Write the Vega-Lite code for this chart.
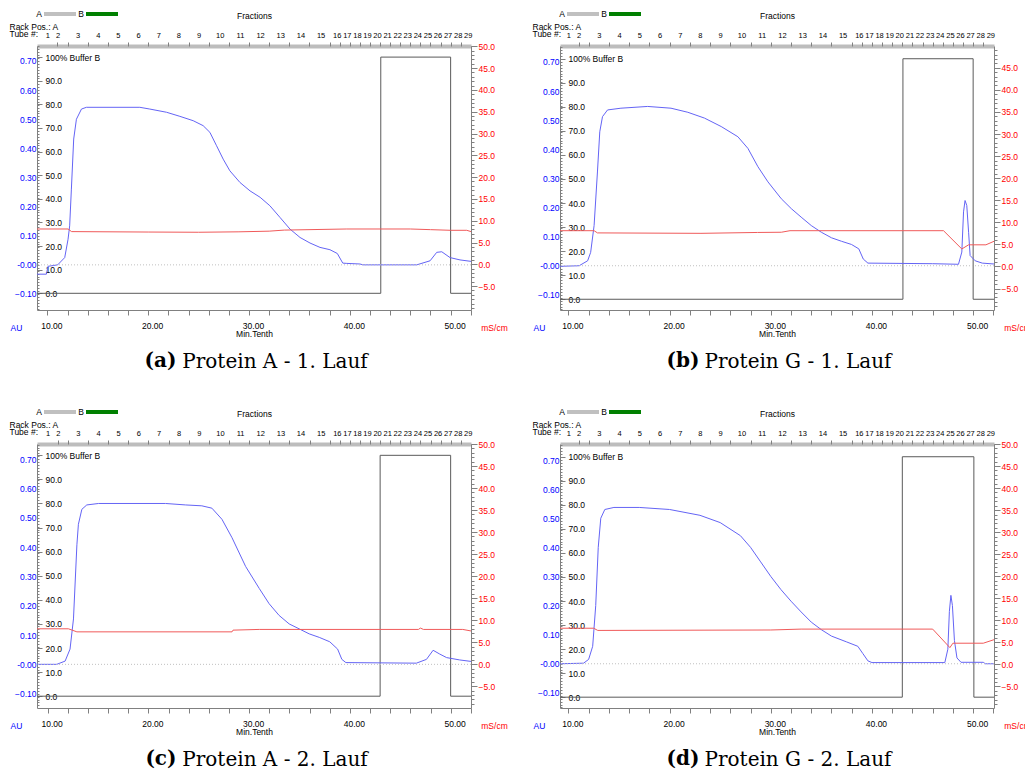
{
"$schema": "https://vega.github.io/schema/vega-lite/v6.json",
"padding": {"left": 9, "top": -4, "right": 0, "bottom": 0},
"config": {
  "view": {"stroke": null},
  "axis": {"labelFont": "Liberation Sans", "titleFont": "Liberation Sans", "labelFontSize": 8.5, "titleFontSize": 8.5, "titleFontWeight": "normal", "grid": false, "domainColor": "#808080", "tickColor": "#808080", "labelColor": "#000000", "titleColor": "#000000", "labelFlush": false, "labelOverlap": false},
  "legend": {"labelFont": "Liberation Sans", "labelFontSize": 8.5},
  "title": {"font": "DejaVu Serif", "fontSize": 20, "fontWeight": "normal", "color": "#000000", "orient": "bottom", "anchor": "middle", "offset": -18, "dx": 21}
},
"datasets": {
  "buffer": [
    {"p":"a","t":8.97,"b":0},{"p":"a","t":43.07,"b":0},{"p":"a","t":43.07,"b":100},{"p":"a","t":50.0,"b":100},{"p":"a","t":50.0,"b":0},{"p":"a","t":52.02,"b":0},
    {"p":"b","t":9.17,"b":0},{"p":"b","t":43.06,"b":0},{"p":"b","t":43.06,"b":100},{"p":"b","t":50.0,"b":100},{"p":"b","t":50.0,"b":0},{"p":"b","t":52.06,"b":0},
    {"p":"c","t":8.94,"b":0},{"p":"c","t":43.0,"b":0},{"p":"c","t":43.0,"b":100},{"p":"c","t":50.0,"b":100},{"p":"c","t":50.0,"b":0},{"p":"c","t":52.02,"b":0},
    {"p":"d","t":9.17,"b":0},{"p":"d","t":43.0,"b":0},{"p":"d","t":43.0,"b":100},{"p":"d","t":50.07,"b":100},{"p":"d","t":50.07,"b":0},{"p":"d","t":52.06,"b":0}
  ],
  "uv": [
    {"p":"a","t":8.97,"au":-0.032},{"p":"a","t":9.9,"au":-0.032},{"p":"a","t":10.06,"au":-0.005},{"p":"a","t":11.02,"au":0.0},{"p":"a","t":11.72,"au":0.025},{"p":"a","t":12.05,"au":0.088},{"p":"a","t":12.21,"au":0.134},{"p":"a","t":12.38,"au":0.26},{"p":"a","t":12.61,"au":0.432},{"p":"a","t":12.88,"au":0.5},{"p":"a","t":13.38,"au":0.535},{"p":"a","t":13.87,"au":0.541},{"p":"a","t":19.17,"au":0.541},{"p":"a","t":20.16,"au":0.535},{"p":"a","t":21.82,"au":0.524},{"p":"a","t":23.14,"au":0.51},{"p":"a","t":24.46,"au":0.495},{"p":"a","t":25.45,"au":0.478},{"p":"a","t":26.12,"au":0.455},{"p":"a","t":26.78,"au":0.409},{"p":"a","t":27.44,"au":0.363},{"p":"a","t":28.1,"au":0.323},{"p":"a","t":29.1,"au":0.283},{"p":"a","t":30.1,"au":0.254},{"p":"a","t":31.1,"au":0.232},{"p":"a","t":32.07,"au":0.203},{"p":"a","t":33.07,"au":0.163},{"p":"a","t":34.06,"au":0.123},{"p":"a","t":35.06,"au":0.094},{"p":"a","t":36.05,"au":0.075},{"p":"a","t":37.04,"au":0.06},{"p":"a","t":38.03,"au":0.052},{"p":"a","t":38.76,"au":0.039},{"p":"a","t":39.3,"au":0.006},{"p":"a","t":39.7,"au":0.005},{"p":"a","t":41.0,"au":0.003},{"p":"a","t":41.31,"au":0.0},{"p":"a","t":46.64,"au":0.0},{"p":"a","t":47.96,"au":0.014},{"p":"a","t":48.62,"au":0.043},{"p":"a","t":49.12,"au":0.045},{"p":"a","t":49.94,"au":0.025},{"p":"a","t":50.93,"au":0.017},{"p":"a","t":52.02,"au":0.012},
    {"p":"b","t":9.17,"au":-0.002},{"p":"b","t":11.06,"au":0.0},{"p":"b","t":11.9,"au":0.017},{"p":"b","t":12.2,"au":0.046},{"p":"b","t":12.54,"au":0.138},{"p":"b","t":12.87,"au":0.322},{"p":"b","t":13.1,"au":0.46},{"p":"b","t":13.37,"au":0.512},{"p":"b","t":13.87,"au":0.535},{"p":"b","t":15.19,"au":0.541},{"p":"b","t":17.83,"au":0.547},{"p":"b","t":20.14,"au":0.541},{"p":"b","t":21.8,"au":0.527},{"p":"b","t":23.45,"au":0.507},{"p":"b","t":25.1,"au":0.478},{"p":"b","t":26.75,"au":0.443},{"p":"b","t":27.74,"au":0.403},{"p":"b","t":28.73,"au":0.34},{"p":"b","t":29.72,"au":0.288},{"p":"b","t":31.04,"au":0.23},{"p":"b","t":32.03,"au":0.196},{"p":"b","t":33.0,"au":0.167},{"p":"b","t":34.0,"au":0.138},{"p":"b","t":35.0,"au":0.115},{"p":"b","t":36.0,"au":0.096},{"p":"b","t":36.99,"au":0.084},{"p":"b","t":37.98,"au":0.073},{"p":"b","t":38.7,"au":0.058},{"p":"b","t":39.14,"au":0.023},{"p":"b","t":39.6,"au":0.009},{"p":"b","t":46.0,"au":0.007},{"p":"b","t":48.55,"au":0.005},{"p":"b","t":48.88,"au":0.047},{"p":"b","t":49.05,"au":0.185},{"p":"b","t":49.2,"au":0.224},{"p":"b","t":49.37,"au":0.207},{"p":"b","t":49.55,"au":0.115},{"p":"b","t":49.7,"au":0.035},{"p":"b","t":50.2,"au":0.017},{"p":"b","t":50.9,"au":0.009},{"p":"b","t":52.06,"au":0.006},
    {"p":"c","t":8.94,"au":0.0},{"p":"c","t":10.9,"au":0.0},{"p":"c","t":11.73,"au":0.011},{"p":"c","t":12.22,"au":0.052},{"p":"c","t":12.56,"au":0.155},{"p":"c","t":12.9,"au":0.408},{"p":"c","t":13.05,"au":0.478},{"p":"c","t":13.39,"au":0.529},{"p":"c","t":13.88,"au":0.544},{"p":"c","t":15.05,"au":0.549},{"p":"c","t":21.7,"au":0.549},{"p":"c","t":23.7,"au":0.544},{"p":"c","t":25.3,"au":0.541},{"p":"c","t":26.3,"au":0.533},{"p":"c","t":27.3,"au":0.495},{"p":"c","t":28.3,"au":0.432},{"p":"c","t":29.65,"au":0.334},{"p":"c","t":31.0,"au":0.259},{"p":"c","t":31.98,"au":0.207},{"p":"c","t":32.97,"au":0.167},{"p":"c","t":33.97,"au":0.138},{"p":"c","t":34.97,"au":0.121},{"p":"c","t":35.96,"au":0.104},{"p":"c","t":36.96,"au":0.092},{"p":"c","t":38.0,"au":0.077},{"p":"c","t":38.78,"au":0.052},{"p":"c","t":39.2,"au":0.017},{"p":"c","t":39.6,"au":0.006},{"p":"c","t":46.6,"au":0.004},{"p":"c","t":47.6,"au":0.017},{"p":"c","t":48.26,"au":0.048},{"p":"c","t":48.92,"au":0.035},{"p":"c","t":49.6,"au":0.023},{"p":"c","t":50.9,"au":0.015},{"p":"c","t":52.02,"au":0.01},
    {"p":"d","t":9.17,"au":0.0},{"p":"d","t":11.5,"au":0.002},{"p":"d","t":12.0,"au":0.015},{"p":"d","t":12.4,"au":0.06},{"p":"d","t":12.7,"au":0.2},{"p":"d","t":12.95,"au":0.4},{"p":"d","t":13.2,"au":0.5},{"p":"d","t":13.6,"au":0.53},{"p":"d","t":14.5,"au":0.537},{"p":"d","t":17.0,"au":0.537},{"p":"d","t":20.0,"au":0.53},{"p":"d","t":23.0,"au":0.51},{"p":"d","t":25.0,"au":0.485},{"p":"d","t":27.0,"au":0.44},{"p":"d","t":28.0,"au":0.4},{"p":"d","t":29.0,"au":0.35},{"p":"d","t":30.0,"au":0.3},{"p":"d","t":31.0,"au":0.255},{"p":"d","t":32.0,"au":0.215},{"p":"d","t":33.0,"au":0.178},{"p":"d","t":34.0,"au":0.143},{"p":"d","t":35.0,"au":0.117},{"p":"d","t":36.0,"au":0.095},{"p":"d","t":37.5,"au":0.075},{"p":"d","t":38.6,"au":0.06},{"p":"d","t":39.1,"au":0.035},{"p":"d","t":39.6,"au":0.01},{"p":"d","t":40.0,"au":0.004},{"p":"d","t":47.2,"au":0.004},{"p":"d","t":47.5,"au":0.05},{"p":"d","t":47.65,"au":0.18},{"p":"d","t":47.8,"au":0.235},{"p":"d","t":47.95,"au":0.2},{"p":"d","t":48.15,"au":0.08},{"p":"d","t":48.4,"au":0.02},{"p":"d","t":48.8,"au":0.005},{"p":"d","t":51.0,"au":0.005},{"p":"d","t":51.2,"au":0.0},{"p":"d","t":52.06,"au":0.0}
  ],
  "cond": [
    {"p":"a","t":8.97,"ms":8.1},{"p":"a","t":12.05,"ms":8.1},{"p":"a","t":12.4,"ms":7.5},{"p":"a","t":20.0,"ms":7.4},{"p":"a","t":25.0,"ms":7.35},{"p":"a","t":29.0,"ms":7.45},{"p":"a","t":32.0,"ms":7.6},{"p":"a","t":33.5,"ms":7.85},{"p":"a","t":39.7,"ms":8.1},{"p":"a","t":46.0,"ms":8.1},{"p":"a","t":48.0,"ms":7.95},{"p":"a","t":50.0,"ms":7.8},{"p":"a","t":51.6,"ms":7.8},{"p":"a","t":52.02,"ms":7.5},
    {"p":"b","t":9.17,"ms":8.1},{"p":"b","t":12.54,"ms":8.1},{"p":"b","t":12.87,"ms":7.6},{"p":"b","t":23.1,"ms":7.5},{"p":"b","t":28.7,"ms":7.7},{"p":"b","t":31.04,"ms":7.75},{"p":"b","t":31.9,"ms":8.1},{"p":"b","t":47.07,"ms":8.1},{"p":"b","t":48.88,"ms":3.96},{"p":"b","t":49.55,"ms":4.9},{"p":"b","t":51.26,"ms":4.9},{"p":"b","t":52.06,"ms":5.7},
    {"p":"c","t":8.94,"ms":8.04},{"p":"c","t":12.06,"ms":8.04},{"p":"c","t":12.9,"ms":7.35},{"p":"c","t":28.3,"ms":7.35},{"p":"c","t":28.4,"ms":7.74},{"p":"c","t":31.0,"ms":7.9},{"p":"c","t":46.8,"ms":7.9},{"p":"c","t":47.0,"ms":8.2},{"p":"c","t":47.3,"ms":7.9},{"p":"c","t":51.2,"ms":7.9},{"p":"c","t":52.02,"ms":7.55},
    {"p":"d","t":9.17,"ms":8.2},{"p":"d","t":12.5,"ms":8.2},{"p":"d","t":12.9,"ms":7.7},{"p":"d","t":30.0,"ms":7.8},{"p":"d","t":33.0,"ms":8.0},{"p":"d","t":46.0,"ms":8.0},{"p":"d","t":47.7,"ms":3.8},{"p":"d","t":48.0,"ms":4.8},{"p":"d","t":51.0,"ms":4.8},{"p":"d","t":52.06,"ms":5.6}
  ]
},
"spacing": 22,
"resolve": {"scale": {"x": "independent", "y": "independent", "color": "independent"}, "legend": {"color": "independent"}},
"vconcat": [
{"hconcat": [
{
  "width": 434, "height": 264,
  "title": {"text": "Protein A - 1. Lauf"},
  "layer": [
    {"data": {"name": "buffer"}, "transform": [{"filter": "datum.p == 'a'"}],
     "mark": {"type": "line", "color": "#5a5a5a", "strokeWidth": 1},
     "encoding": {
       "x": {"field": "t", "type": "quantitative", "scale": {"domain": [8.97, 52.02], "nice": false, "zero": false},
             "axis": {"orient": "bottom", "values": [10,12,14,16,18,20,22,24,26,28,30,32,34,36,38,40,42,44,46,48,50,52], "labelExpr": "datum.value % 10 === 0 ? format(datum.value, '.2f') : ''", "title": "Min.Tenth", "tickSize": 5, "labelOffset": 4, "labelPadding": 6, "titlePadding": 0}},
       "y": {"field": "b", "type": "quantitative", "scale": {"domain": [-7.07, 104.7], "nice": false, "zero": false},
             "axis": {"orient": "right", "offset": -434, "values": [0,10,20,30,40,50,60,70,80,90,100], "labelExpr": "datum.value === 100 ? '100% Buffer B' : format(datum.value, '.1f')", "domain": false, "tickSize": 5, "labelPadding": 3, "title": null}}
     }},
    {"data": {"name": "uv"}, "transform": [{"filter": "datum.p == 'a'"}],
     "mark": {"type": "line", "color": "#6464f5", "strokeWidth": 1},
     "encoding": {
       "x": {"field": "t", "type": "quantitative", "scale": {"domain": [8.97, 52.02], "nice": false, "zero": false},
             "axis": {"orient": "top", "values": [10,11,13,15,17,19,21,23,25,27.1,29.1,31.1,33.1,35.1,37.1,38.7,39.7,40.7,41.7,42.7,43.7,44.7,45.7,46.7,47.7,48.7,49.7,50.7,51.7], "labelExpr": "indexof([10,11,13,15,17,19,21,23,25,27.1,29.1,31.1,33.1,35.1,37.1,38.7,39.7,40.7,41.7,42.7,43.7,44.7,45.7,46.7,47.7,48.7,49.7,50.7,51.7], datum.value) + 1", "labelFontSize": 7.5, "ticks": false, "domainWidth": 4, "domainColor": "#bdbdbd", "labelPadding": 7, "title": "Fractions", "titlePadding": 11}},
       "y": {"field": "au", "type": "quantitative", "scale": {"domain": [-0.155, 0.7515], "nice": false, "zero": false},
             "axis": {"orient": "left", "values": [-0.1,0,0.1,0.2,0.3,0.4,0.5,0.6,0.7], "labelExpr": "datum.value === 0 ? '-0.00' : format(datum.value, '.2f')", "labelColor": "#0000ff", "ticks": false, "labelPadding": 1, "title": "AU", "titleColor": "#0000ff", "titleAngle": 0, "titleX": -21, "titleY": 281, "titleAlign": "center", "titleBaseline": "middle"}}
     }},
    {"data": {"name": "cond"}, "transform": [{"filter": "datum.p == 'a'"}],
     "mark": {"type": "line", "color": "#f05a5a", "strokeWidth": 1},
     "encoding": {
       "x": {"field": "t", "type": "quantitative", "scale": {"domain": [8.97, 52.02], "nice": false, "zero": false},
             "axis": {"orient": "top", "values": [11,12,14,16,18,20,22,24,26,28,30,32,34,36,38,39,40,41,42,43,44,45,46,47,48,49,50,51], "labels": false, "domain": false, "tickSize": 4, "title": ["Rack Pos.: A", "Tube #:"], "titleX": -28, "titleY": -20, "titleAlign": "left", "titleBaseline": "middle", "titleLineHeight": 7, "titleAngle": 0}},
       "y": {"field": "ms", "type": "quantitative", "scale": {"domain": [-10.48, 50.07], "nice": false, "zero": false},
             "axis": {"orient": "right", "values": [-5,0,5,10,15,20,25,30,35,40,45,50], "format": ".1f", "labelColor": "#ff0000", "tickSize": 6, "labelPadding": 1, "title": "mS/cm", "titleColor": "#ff0000", "titleAngle": 0, "titleX": 23, "titleY": 281, "titleAlign": "center", "titleBaseline": "middle"}}
     }},
    {"data": {"values": [{"base": 0}]},
     "mark": {"type": "rule", "strokeDash": [1, 2], "strokeWidth": 1},
     "encoding": {
       "y": {"field": "base", "type": "quantitative", "scale": {"domain": [-0.155, 0.7515], "nice": false, "zero": false},
             "axis": {"orient": "right", "offset": -434, "tickCount": 90, "labels": false, "domain": false, "tickSize": 2, "title": null}},
       "color": {"datum": "A", "scale": {"domain": ["A", "B"], "range": ["#c0c0c0", "#008000"]},
                 "legend": {"orient": "none", "legendX": 5, "legendY": -50, "direction": "horizontal", "title": null, "symbolType": "stroke", "symbolSize": 1024, "symbolStrokeWidth": 4, "symbolDash": [1, 0], "labelOffset": -36, "labelAlign": "right", "columnPadding": -11}}
     }},
    {"data": {"name": "cond"}, "transform": [{"filter": "datum.p == 'a'"}],
     "mark": {"type": "line", "strokeOpacity": 0},
     "encoding": {
       "x": {"field": "t", "type": "quantitative", "scale": {"domain": [8.97, 52.02], "nice": false, "zero": false},
             "axis": {"orient": "bottom", "labels": false, "ticks": false, "domain": false, "title": "(a)", "titleFont": "DejaVu Serif", "titleFontSize": 20, "titleFontWeight": "bold", "titleX": 139, "titleY": 56, "titleAlign": "right", "titleBaseline": "alphabetic", "titleAngle": 0}},
       "y": {"field": "ms", "type": "quantitative", "scale": {"domain": [-10.48, 50.07], "nice": false, "zero": false},
             "axis": {"orient": "right", "tickCount": 60, "labels": false, "domain": false, "tickSize": 3, "title": null}}
     }}
  ],
  "resolve": {"scale": {"x": "independent", "y": "independent"}, "axis": {"x": "independent", "y": "independent"}}
},
{
  "width": 434, "height": 264,
  "title": {"text": "Protein G - 1. Lauf"},
  "layer": [
    {"data": {"name": "buffer"}, "transform": [{"filter": "datum.p == 'b'"}],
     "mark": {"type": "line", "color": "#5a5a5a", "strokeWidth": 1},
     "encoding": {
       "x": {"field": "t", "type": "quantitative", "scale": {"domain": [9.17, 52.06], "nice": false, "zero": false},
             "axis": {"orient": "bottom", "values": [10,12,14,16,18,20,22,24,26,28,30,32,34,36,38,40,42,44,46,48,50,52], "labelExpr": "datum.value % 10 === 0 ? format(datum.value, '.2f') : ''", "title": "Min.Tenth", "tickSize": 5, "labelOffset": 4, "labelPadding": 6, "titlePadding": 0}},
       "y": {"field": "b", "type": "quantitative", "scale": {"domain": [-4.47, 105.3], "nice": false, "zero": false},
             "axis": {"orient": "right", "offset": -434, "values": [0,10,20,30,40,50,60,70,80,90,100], "labelExpr": "datum.value === 100 ? '100% Buffer B' : format(datum.value, '.1f')", "domain": false, "tickSize": 5, "labelPadding": 3, "title": null}}
     }},
    {"data": {"name": "uv"}, "transform": [{"filter": "datum.p == 'b'"}],
     "mark": {"type": "line", "color": "#6464f5", "strokeWidth": 1},
     "encoding": {
       "x": {"field": "t", "type": "quantitative", "scale": {"domain": [9.17, 52.06], "nice": false, "zero": false},
             "axis": {"orient": "top", "values": [10,11,13,15,17,19,21,23,25,27.1,29.1,31.1,33.1,35.1,37.1,38.7,39.7,40.7,41.7,42.7,43.7,44.7,45.7,46.7,47.7,48.7,49.7,50.7,51.7], "labelExpr": "indexof([10,11,13,15,17,19,21,23,25,27.1,29.1,31.1,33.1,35.1,37.1,38.7,39.7,40.7,41.7,42.7,43.7,44.7,45.7,46.7,47.7,48.7,49.7,50.7,51.7], datum.value) + 1", "labelFontSize": 7.5, "ticks": false, "domainWidth": 4, "domainColor": "#bdbdbd", "labelPadding": 7, "title": "Fractions", "titlePadding": 11}},
       "y": {"field": "au", "type": "quantitative", "scale": {"domain": [-0.152, 0.7546], "nice": false, "zero": false},
             "axis": {"orient": "left", "values": [-0.1,0,0.1,0.2,0.3,0.4,0.5,0.6,0.7], "labelExpr": "datum.value === 0 ? '-0.00' : format(datum.value, '.2f')", "labelColor": "#0000ff", "ticks": false, "labelPadding": 1, "title": "AU", "titleColor": "#0000ff", "titleAngle": 0, "titleX": -21, "titleY": 281, "titleAlign": "center", "titleBaseline": "middle"}}
     }},
    {"data": {"name": "cond"}, "transform": [{"filter": "datum.p == 'b'"}],
     "mark": {"type": "line", "color": "#f05a5a", "strokeWidth": 1},
     "encoding": {
       "x": {"field": "t", "type": "quantitative", "scale": {"domain": [9.17, 52.06], "nice": false, "zero": false},
             "axis": {"orient": "top", "values": [11,12,14,16,18,20,22,24,26,28,30,32,34,36,38,39,40,41,42,43,44,45,46,47,48,49,50,51], "labels": false, "domain": false, "tickSize": 4, "title": ["Rack Pos.: A", "Tube #:"], "titleX": -28, "titleY": -20, "titleAlign": "left", "titleBaseline": "middle", "titleLineHeight": 7, "titleAngle": 0}},
       "y": {"field": "ms", "type": "quantitative", "scale": {"domain": [-9.87, 49.95], "nice": false, "zero": false},
             "axis": {"orient": "right", "values": [-5,0,5,10,15,20,25,30,35,40,45,50], "format": ".1f", "labelColor": "#ff0000", "tickSize": 6, "labelPadding": 1, "title": "mS/cm", "titleColor": "#ff0000", "titleAngle": 0, "titleX": 23, "titleY": 281, "titleAlign": "center", "titleBaseline": "middle"}}
     }},
    {"data": {"values": [{"base": 0}]},
     "mark": {"type": "rule", "strokeDash": [1, 2], "strokeWidth": 1},
     "encoding": {
       "y": {"field": "base", "type": "quantitative", "scale": {"domain": [-0.152, 0.7546], "nice": false, "zero": false},
             "axis": {"orient": "right", "offset": -434, "tickCount": 90, "labels": false, "domain": false, "tickSize": 2, "title": null}},
       "color": {"datum": "A", "scale": {"domain": ["A", "B"], "range": ["#c0c0c0", "#008000"]},
                 "legend": {"orient": "none", "legendX": 5, "legendY": -50, "direction": "horizontal", "title": null, "symbolType": "stroke", "symbolSize": 1024, "symbolStrokeWidth": 4, "symbolDash": [1, 0], "labelOffset": -36, "labelAlign": "right", "columnPadding": -11}}
     }},
    {"data": {"name": "cond"}, "transform": [{"filter": "datum.p == 'b'"}],
     "mark": {"type": "line", "strokeOpacity": 0},
     "encoding": {
       "x": {"field": "t", "type": "quantitative", "scale": {"domain": [9.17, 52.06], "nice": false, "zero": false},
             "axis": {"orient": "bottom", "labels": false, "ticks": false, "domain": false, "title": "(b)", "titleFont": "DejaVu Serif", "titleFontSize": 20, "titleFontWeight": "bold", "titleX": 139, "titleY": 56, "titleAlign": "right", "titleBaseline": "alphabetic", "titleAngle": 0}},
       "y": {"field": "ms", "type": "quantitative", "scale": {"domain": [-9.87, 49.95], "nice": false, "zero": false},
             "axis": {"orient": "right", "tickCount": 60, "labels": false, "domain": false, "tickSize": 3, "title": null}}
     }}
  ],
  "resolve": {"scale": {"x": "independent", "y": "independent"}, "axis": {"x": "independent", "y": "independent"}}
}
], "spacing": 24, "resolve": {"scale": {"x": "independent", "y": "independent", "color": "independent"}, "legend": {"color": "independent"}}},
{"hconcat": [
{
  "width": 434, "height": 264,
  "title": {"text": "Protein A - 2. Lauf"},
  "layer": [
    {"data": {"name": "buffer"}, "transform": [{"filter": "datum.p == 'c'"}],
     "mark": {"type": "line", "color": "#5a5a5a", "strokeWidth": 1},
     "encoding": {
       "x": {"field": "t", "type": "quantitative", "scale": {"domain": [8.94, 52.02], "nice": false, "zero": false},
             "axis": {"orient": "bottom", "values": [10,12,14,16,18,20,22,24,26,28,30,32,34,36,38,40,42,44,46,48,50,52], "labelExpr": "datum.value % 10 === 0 ? format(datum.value, '.2f') : ''", "title": "Min.Tenth", "tickSize": 5, "labelOffset": 4, "labelPadding": 6, "titlePadding": 0}},
       "y": {"field": "b", "type": "quantitative", "scale": {"domain": [-4.9, 104.7], "nice": false, "zero": false},
             "axis": {"orient": "right", "offset": -434, "values": [0,10,20,30,40,50,60,70,80,90,100], "labelExpr": "datum.value === 100 ? '100% Buffer B' : format(datum.value, '.1f')", "domain": false, "tickSize": 5, "labelPadding": 3, "title": null}}
     }},
    {"data": {"name": "uv"}, "transform": [{"filter": "datum.p == 'c'"}],
     "mark": {"type": "line", "color": "#6464f5", "strokeWidth": 1},
     "encoding": {
       "x": {"field": "t", "type": "quantitative", "scale": {"domain": [8.94, 52.02], "nice": false, "zero": false},
             "axis": {"orient": "top", "values": [10,11,13,15,17,19,21,23,25,27.1,29.1,31.1,33.1,35.1,37.1,38.7,39.7,40.7,41.7,42.7,43.7,44.7,45.7,46.7,47.7,48.7,49.7,50.7,51.7], "labelExpr": "indexof([10,11,13,15,17,19,21,23,25,27.1,29.1,31.1,33.1,35.1,37.1,38.7,39.7,40.7,41.7,42.7,43.7,44.7,45.7,46.7,47.7,48.7,49.7,50.7,51.7], datum.value) + 1", "labelFontSize": 7.5, "ticks": false, "domainWidth": 4, "domainColor": "#bdbdbd", "labelPadding": 7, "title": "Fractions", "titlePadding": 11}},
       "y": {"field": "au", "type": "quantitative", "scale": {"domain": [-0.149, 0.752], "nice": false, "zero": false},
             "axis": {"orient": "left", "values": [-0.1,0,0.1,0.2,0.3,0.4,0.5,0.6,0.7], "labelExpr": "datum.value === 0 ? '-0.00' : format(datum.value, '.2f')", "labelColor": "#0000ff", "ticks": false, "labelPadding": 1, "title": "AU", "titleColor": "#0000ff", "titleAngle": 0, "titleX": -21, "titleY": 281, "titleAlign": "center", "titleBaseline": "middle"}}
     }},
    {"data": {"name": "cond"}, "transform": [{"filter": "datum.p == 'c'"}],
     "mark": {"type": "line", "color": "#f05a5a", "strokeWidth": 1},
     "encoding": {
       "x": {"field": "t", "type": "quantitative", "scale": {"domain": [8.94, 52.02], "nice": false, "zero": false},
             "axis": {"orient": "top", "values": [11,12,14,16,18,20,22,24,26,28,30,32,34,36,38,39,40,41,42,43,44,45,46,47,48,49,50,51], "labels": false, "domain": false, "tickSize": 4, "title": ["Rack Pos.: A", "Tube #:"], "titleX": -28, "titleY": -20, "titleAlign": "left", "titleBaseline": "middle", "titleLineHeight": 7, "titleAngle": 0}},
       "y": {"field": "ms", "type": "quantitative", "scale": {"domain": [-9.94, 50.0], "nice": false, "zero": false},
             "axis": {"orient": "right", "values": [-5,0,5,10,15,20,25,30,35,40,45,50], "format": ".1f", "labelColor": "#ff0000", "tickSize": 6, "labelPadding": 1, "title": "mS/cm", "titleColor": "#ff0000", "titleAngle": 0, "titleX": 23, "titleY": 281, "titleAlign": "center", "titleBaseline": "middle"}}
     }},
    {"data": {"values": [{"base": 0}]},
     "mark": {"type": "rule", "strokeDash": [1, 2], "strokeWidth": 1},
     "encoding": {
       "y": {"field": "base", "type": "quantitative", "scale": {"domain": [-0.149, 0.752], "nice": false, "zero": false},
             "axis": {"orient": "right", "offset": -434, "tickCount": 90, "labels": false, "domain": false, "tickSize": 2, "title": null}},
       "color": {"datum": "A", "scale": {"domain": ["A", "B"], "range": ["#c0c0c0", "#008000"]},
                 "legend": {"orient": "none", "legendX": 5, "legendY": -50, "direction": "horizontal", "title": null, "symbolType": "stroke", "symbolSize": 1024, "symbolStrokeWidth": 4, "symbolDash": [1, 0], "labelOffset": -36, "labelAlign": "right", "columnPadding": -11}}
     }},
    {"data": {"name": "cond"}, "transform": [{"filter": "datum.p == 'c'"}],
     "mark": {"type": "line", "strokeOpacity": 0},
     "encoding": {
       "x": {"field": "t", "type": "quantitative", "scale": {"domain": [8.94, 52.02], "nice": false, "zero": false},
             "axis": {"orient": "bottom", "labels": false, "ticks": false, "domain": false, "title": "(c)", "titleFont": "DejaVu Serif", "titleFontSize": 20, "titleFontWeight": "bold", "titleX": 139, "titleY": 56, "titleAlign": "right", "titleBaseline": "alphabetic", "titleAngle": 0}},
       "y": {"field": "ms", "type": "quantitative", "scale": {"domain": [-9.94, 50.0], "nice": false, "zero": false},
             "axis": {"orient": "right", "tickCount": 60, "labels": false, "domain": false, "tickSize": 3, "title": null}}
     }}
  ],
  "resolve": {"scale": {"x": "independent", "y": "independent"}, "axis": {"x": "independent", "y": "independent"}}
},
{
  "width": 434, "height": 264,
  "title": {"text": "Protein G - 2. Lauf"},
  "layer": [
    {"data": {"name": "buffer"}, "transform": [{"filter": "datum.p == 'd'"}],
     "mark": {"type": "line", "color": "#5a5a5a", "strokeWidth": 1},
     "encoding": {
       "x": {"field": "t", "type": "quantitative", "scale": {"domain": [9.17, 52.06], "nice": false, "zero": false},
             "axis": {"orient": "bottom", "values": [10,12,14,16,18,20,22,24,26,28,30,32,34,36,38,40,42,44,46,48,50,52], "labelExpr": "datum.value % 10 === 0 ? format(datum.value, '.2f') : ''", "title": "Min.Tenth", "tickSize": 5, "labelOffset": 4, "labelPadding": 6, "titlePadding": 0}},
       "y": {"field": "b", "type": "quantitative", "scale": {"domain": [-4.5, 105.3], "nice": false, "zero": false},
             "axis": {"orient": "right", "offset": -434, "values": [0,10,20,30,40,50,60,70,80,90,100], "labelExpr": "datum.value === 100 ? '100% Buffer B' : format(datum.value, '.1f')", "domain": false, "tickSize": 5, "labelPadding": 3, "title": null}}
     }},
    {"data": {"name": "uv"}, "transform": [{"filter": "datum.p == 'd'"}],
     "mark": {"type": "line", "color": "#6464f5", "strokeWidth": 1},
     "encoding": {
       "x": {"field": "t", "type": "quantitative", "scale": {"domain": [9.17, 52.06], "nice": false, "zero": false},
             "axis": {"orient": "top", "values": [10,11,13,15,17,19,21,23,25,27.1,29.1,31.1,33.1,35.1,37.1,38.7,39.7,40.7,41.7,42.7,43.7,44.7,45.7,46.7,47.7,48.7,49.7,50.7,51.7], "labelExpr": "indexof([10,11,13,15,17,19,21,23,25,27.1,29.1,31.1,33.1,35.1,37.1,38.7,39.7,40.7,41.7,42.7,43.7,44.7,45.7,46.7,47.7,48.7,49.7,50.7,51.7], datum.value) + 1", "labelFontSize": 7.5, "ticks": false, "domainWidth": 4, "domainColor": "#bdbdbd", "labelPadding": 7, "title": "Fractions", "titlePadding": 11}},
       "y": {"field": "au", "type": "quantitative", "scale": {"domain": [-0.152, 0.755], "nice": false, "zero": false},
             "axis": {"orient": "left", "values": [-0.1,0,0.1,0.2,0.3,0.4,0.5,0.6,0.7], "labelExpr": "datum.value === 0 ? '-0.00' : format(datum.value, '.2f')", "labelColor": "#0000ff", "ticks": false, "labelPadding": 1, "title": "AU", "titleColor": "#0000ff", "titleAngle": 0, "titleX": -21, "titleY": 281, "titleAlign": "center", "titleBaseline": "middle"}}
     }},
    {"data": {"name": "cond"}, "transform": [{"filter": "datum.p == 'd'"}],
     "mark": {"type": "line", "color": "#f05a5a", "strokeWidth": 1},
     "encoding": {
       "x": {"field": "t", "type": "quantitative", "scale": {"domain": [9.17, 52.06], "nice": false, "zero": false},
             "axis": {"orient": "top", "values": [11,12,14,16,18,20,22,24,26,28,30,32,34,36,38,39,40,41,42,43,44,45,46,47,48,49,50,51], "labels": false, "domain": false, "tickSize": 4, "title": ["Rack Pos.: A", "Tube #:"], "titleX": -28, "titleY": -20, "titleAlign": "left", "titleBaseline": "middle", "titleLineHeight": 7, "titleAngle": 0}},
       "y": {"field": "ms", "type": "quantitative", "scale": {"domain": [-9.9, 50.0], "nice": false, "zero": false},
             "axis": {"orient": "right", "values": [-5,0,5,10,15,20,25,30,35,40,45,50], "format": ".1f", "labelColor": "#ff0000", "tickSize": 6, "labelPadding": 1, "title": "mS/cm", "titleColor": "#ff0000", "titleAngle": 0, "titleX": 23, "titleY": 281, "titleAlign": "center", "titleBaseline": "middle"}}
     }},
    {"data": {"values": [{"base": 0}]},
     "mark": {"type": "rule", "strokeDash": [1, 2], "strokeWidth": 1},
     "encoding": {
       "y": {"field": "base", "type": "quantitative", "scale": {"domain": [-0.152, 0.755], "nice": false, "zero": false},
             "axis": {"orient": "right", "offset": -434, "tickCount": 90, "labels": false, "domain": false, "tickSize": 2, "title": null}},
       "color": {"datum": "A", "scale": {"domain": ["A", "B"], "range": ["#c0c0c0", "#008000"]},
                 "legend": {"orient": "none", "legendX": 5, "legendY": -50, "direction": "horizontal", "title": null, "symbolType": "stroke", "symbolSize": 1024, "symbolStrokeWidth": 4, "symbolDash": [1, 0], "labelOffset": -36, "labelAlign": "right", "columnPadding": -11}}
     }},
    {"data": {"name": "cond"}, "transform": [{"filter": "datum.p == 'd'"}],
     "mark": {"type": "line", "strokeOpacity": 0},
     "encoding": {
       "x": {"field": "t", "type": "quantitative", "scale": {"domain": [9.17, 52.06], "nice": false, "zero": false},
             "axis": {"orient": "bottom", "labels": false, "ticks": false, "domain": false, "title": "(d)", "titleFont": "DejaVu Serif", "titleFontSize": 20, "titleFontWeight": "bold", "titleX": 139, "titleY": 56, "titleAlign": "right", "titleBaseline": "alphabetic", "titleAngle": 0}},
       "y": {"field": "ms", "type": "quantitative", "scale": {"domain": [-9.9, 50.0], "nice": false, "zero": false},
             "axis": {"orient": "right", "tickCount": 60, "labels": false, "domain": false, "tickSize": 3, "title": null}}
     }}
  ],
  "resolve": {"scale": {"x": "independent", "y": "independent"}, "axis": {"x": "independent", "y": "independent"}}
}
], "spacing": 24, "resolve": {"scale": {"x": "independent", "y": "independent", "color": "independent"}, "legend": {"color": "independent"}}}
]
}
